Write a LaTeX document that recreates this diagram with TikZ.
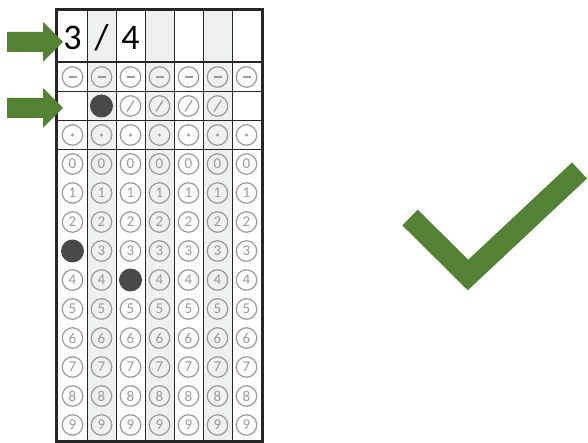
\documentclass[tikz,border=0pt]{standalone}
\usepackage{fontspec}
\setsansfont{Carlito}
\definecolor{markgreen}{HTML}{548235}
\definecolor{colshade}{HTML}{EFF0F0}
\definecolor{bubblegray}{HTML}{9A9A9A}
\definecolor{bubblefill}{HTML}{4A4A4A}
\definecolor{borderdark}{HTML}{262626}
\tikzset{
  bubble/.style={circle,draw=bubblegray,line width=1.2pt,minimum size=20.5pt,inner sep=0pt,text=bubblegray,font=\sffamily\fontsize{15}{15}\selectfont},
  filledbubble/.style={circle,fill=bubblefill,minimum size=23pt,inner sep=0pt},
  entry/.style={inner sep=0pt,font=\sffamily\fontsize{36}{36}\selectfont},
}
\begin{document}
\begin{tikzpicture}[x=1pt,y=-1pt]
\useasboundingbox (0,0) rectangle (588,443);
% shaded columns
\foreach \c in {2,4,6} \fill[colshade] ({58+29*(\c-1)},10) rectangle ({58+29*\c},441);
% column and row rules
\foreach \c in {1,...,6} \draw[borderdark,line width=0.9pt] ({58+29*\c},10) -- ({58+29*\c},441);
\foreach \y in {91.5,120.5,149.5} \draw[borderdark,line width=0.9pt] (58,\y) -- (261,\y);
\draw[borderdark,line width=2.4pt] (57,62) -- (262,62);
\draw[borderdark,line width=3pt] (56.5,9.5) rectangle (262.5,441.5);
% written entries
\node[entry] (h-1) at (72.5,38) {3};
\node[entry] (h-2) at (101.5,38) {/};
\node[entry] (h-3) at (130.5,38) {4};
% bubbles
\foreach \c in {1,...,7} {
  \node[bubble] (b-minus-\c) at ({43.5+29*\c},77) {};
  \draw[bubblegray,line width=1.8pt] ([xshift=-4pt]b-minus-\c.center) -- ([xshift=4pt]b-minus-\c.center);
  \node[bubble] (b-dot-\c) at ({43.5+29*\c},135) {};
  \fill[bubblegray] (b-dot-\c.center) circle (1.6pt);
  \foreach \d in {0,...,9} {
    \ifnum\c\d=13 \node[filledbubble] (b-\d-\c) at ({43.5+29*\c},{164+29*\d}) {};
    \else\ifnum\c\d=34 \node[filledbubble] (b-\d-\c) at ({43.5+29*\c},{164+29*\d}) {};
    \else \node[bubble] (b-\d-\c) at ({43.5+29*\c},{164+29*\d}) {\d};
    \fi\fi
  }
}
\node[filledbubble] (b-slash-2) at (101.5,106) {};
\foreach \c in {3,...,6} {
  \node[bubble] (b-slash-\c) at ({43.5+29*\c},106) {};
  \draw[bubblegray,line width=1.2pt] ([shift={(-3.5,5.5)}]b-slash-\c.center) -- ([shift={(3.5,-5.5)}]b-slash-\c.center);
}
% arrows
\foreach \y in {42,108}
  \fill[markgreen] (7,\y-10) -- (43,\y-10) -- (43,\y-20) -- (63,\y) -- (43,\y+20) -- (43,\y+10) -- (7,\y+10) -- cycle;
% check mark
\draw[markgreen,line width=22pt,miter limit=4] (410,217.5) -- (468,275) -- (579.5,170.5);
\end{tikzpicture}
\end{document}
